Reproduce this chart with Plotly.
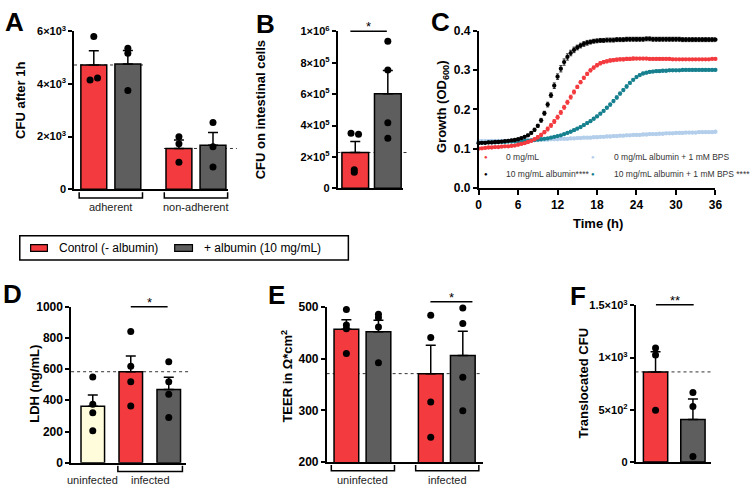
import plotly.graph_objects as go

W, H = 755, 493
FONT = "Liberation Sans, Arial, sans-serif"
RED = "#F33A3E"
GREY = "#5E5E5E"
CREAM = "#FFFCDC"
TEAL = "#17808F"
PALE = "#B3CEEB"

# ---------------- data ----------------
# A: CFU after 1h
A_groups = ["adherent", "non-adherent"]
A_ctrl_mean = [4720, 1550]
A_ctrl_sem = [540, 320]
A_ctrl_pts = [[5800, 4150, 4230], [2000, 1730, 1030]]
A_alb_mean = [4760, 1670]
A_alb_sem = [510, 490]
A_alb_pts = [[5360, 5170, 3750], [2540, 1620, 850]]
A_ticks = [0, 2000, 4000, 6000]
A_ticktext = ["0", "2×10<sup>3</sup>", "4×10<sup>3</sup>", "6×10<sup>3</sup>"]

# B: CFU on intestinal cells
B_ctrl_mean, B_ctrl_sem = 228000, 70000
B_ctrl_pts = [350000, 345000, 118000, 103000]
B_alb_mean, B_alb_sem = 603000, 148000
B_alb_pts = [936000, 753000, 418000, 319000]
B_ticks = [0, 200000, 400000, 600000, 800000, 1000000]
B_ticktext = ["0", "2×10<sup>5</sup>", "4×10<sup>5</sup>", "6×10<sup>5</sup>",
              "8×10<sup>5</sup>", "1×10<sup>6</sup>"]

# C: growth curves (OD600), every 0.5 h
C_time = [0, 0.5, 1, 1.5, 2, 2.5, 3, 3.5, 4, 4.5, 5, 5.5,
          6, 6.5, 7, 7.5, 8, 8.5, 9, 9.5, 10, 10.5, 11, 11.5,
          12, 12.5, 13, 13.5, 14, 14.5, 15, 15.5, 16, 16.5, 17, 17.5,
          18, 18.5, 19, 19.5, 20, 20.5, 21, 21.5, 22, 22.5, 23, 23.5,
          24, 24.5, 25, 25.5, 26, 26.5, 27, 27.5, 28, 28.5, 29, 29.5,
          30, 30.5, 31, 31.5, 32, 32.5, 33, 33.5, 34, 34.5, 35, 35.5, 36]
C_ctrl = [0.100, 0.101, 0.102, 0.103, 0.103, 0.104, 0.104, 0.105, 0.106, 0.106, 0.107, 0.108,
          0.110, 0.112, 0.114, 0.117, 0.120, 0.124, 0.129, 0.135, 0.142, 0.150, 0.159, 0.169,
          0.180, 0.192, 0.205, 0.218, 0.231, 0.244, 0.257, 0.269, 0.280, 0.290, 0.299, 0.306,
          0.312, 0.317, 0.320, 0.322, 0.324, 0.325, 0.326, 0.327, 0.327, 0.328, 0.328, 0.329,
          0.329, 0.329, 0.329, 0.329, 0.328, 0.328, 0.328, 0.328, 0.328, 0.328, 0.328, 0.327,
          0.327, 0.327, 0.327, 0.327, 0.327, 0.327, 0.327, 0.327, 0.327, 0.327, 0.327, 0.328, 0.328]
C_ctrl_err = [0.002, 0.002, 0.002, 0.002, 0.002, 0.002, 0.002, 0.002, 0.002, 0.002, 0.002, 0.002,
              0.002, 0.002, 0.002, 0.003, 0.003, 0.003, 0.004, 0.004, 0.004, 0.005, 0.005, 0.005,
              0.005, 0.005, 0.005, 0.005, 0.005, 0.005, 0.004, 0.004, 0.004, 0.004, 0.004, 0.004,
              0.004, 0.004, 0.004, 0.004, 0.004, 0.004, 0.004, 0.004, 0.004, 0.004, 0.004, 0.004,
              0.003, 0.003, 0.003, 0.003, 0.003, 0.003, 0.003, 0.003, 0.003, 0.003, 0.003, 0.003,
              0.002, 0.002, 0.002, 0.002, 0.002, 0.002, 0.002, 0.002, 0.002, 0.002, 0.002, 0.002, 0.002]
C_alb = [0.114, 0.115, 0.115, 0.116, 0.116, 0.117, 0.117, 0.118, 0.119, 0.120, 0.121, 0.122,
         0.124, 0.127, 0.130, 0.134, 0.140, 0.148, 0.158, 0.172, 0.190, 0.212, 0.236, 0.260,
         0.283, 0.303, 0.320, 0.333, 0.343, 0.351, 0.357, 0.362, 0.366, 0.369, 0.371, 0.373,
         0.374, 0.375, 0.375, 0.376, 0.376, 0.376, 0.377, 0.377, 0.377, 0.378, 0.378, 0.378,
         0.378, 0.378, 0.378, 0.379, 0.379, 0.378, 0.378, 0.378, 0.378, 0.378, 0.378, 0.378,
         0.378, 0.378, 0.377, 0.377, 0.377, 0.377, 0.377, 0.377, 0.377, 0.377, 0.377, 0.377, 0.377]
C_alb_err = [0.002, 0.002, 0.002, 0.002, 0.002, 0.002, 0.002, 0.002, 0.002, 0.002, 0.002, 0.002,
             0.002, 0.002, 0.003, 0.003, 0.003, 0.004, 0.004, 0.005, 0.005, 0.006, 0.006, 0.007,
             0.007, 0.008, 0.008, 0.008, 0.007, 0.007, 0.006, 0.006, 0.006, 0.006, 0.005, 0.005,
             0.005, 0.005, 0.005, 0.005, 0.005, 0.005, 0.005, 0.005, 0.005, 0.005, 0.005, 0.005,
             0.005, 0.005, 0.005, 0.005, 0.005, 0.005, 0.005, 0.005, 0.005, 0.005, 0.005, 0.005,
             0.005, 0.005, 0.005, 0.005, 0.005, 0.005, 0.005, 0.005, 0.005, 0.005, 0.005, 0.005, 0.005]
C_bps = [0.119, 0.119, 0.119, 0.119, 0.120, 0.120, 0.120, 0.120, 0.120, 0.120, 0.121, 0.121,
         0.121, 0.121, 0.121, 0.122, 0.122, 0.122, 0.122, 0.123, 0.123, 0.123, 0.124, 0.124,
         0.124, 0.125, 0.125, 0.125, 0.126, 0.126, 0.127, 0.127, 0.128, 0.128, 0.128, 0.129,
         0.129, 0.130, 0.130, 0.131, 0.131, 0.132, 0.132, 0.133, 0.133, 0.134, 0.134, 0.135,
         0.135, 0.135, 0.136, 0.136, 0.137, 0.137, 0.137, 0.138, 0.138, 0.139, 0.139, 0.139,
         0.140, 0.140, 0.140, 0.141, 0.141, 0.141, 0.141, 0.142, 0.142, 0.142, 0.142, 0.142, 0.143]
C_bps_err = [0.003, 0.003, 0.003, 0.003, 0.003, 0.003, 0.003, 0.003, 0.003, 0.003, 0.003, 0.003,
             0.003, 0.003, 0.003, 0.003, 0.003, 0.003, 0.003, 0.003, 0.003, 0.003, 0.003, 0.003,
             0.003, 0.003, 0.003, 0.003, 0.003, 0.003, 0.003, 0.003, 0.003, 0.003, 0.003, 0.003,
             0.003, 0.003, 0.003, 0.003, 0.003, 0.003, 0.003, 0.003, 0.003, 0.003, 0.003, 0.003,
             0.003, 0.003, 0.003, 0.003, 0.003, 0.003, 0.003, 0.003, 0.003, 0.003, 0.003, 0.003,
             0.003, 0.003, 0.003, 0.003, 0.003, 0.003, 0.003, 0.003, 0.003, 0.003, 0.003, 0.003, 0.003]
C_alb_bps = [0.115, 0.115, 0.115, 0.116, 0.116, 0.116, 0.117, 0.117, 0.117, 0.118, 0.118, 0.118,
             0.119, 0.119, 0.120, 0.120, 0.121, 0.122, 0.123, 0.124, 0.125, 0.126, 0.128, 0.130,
             0.132, 0.134, 0.137, 0.140, 0.143, 0.147, 0.151, 0.155, 0.160, 0.165, 0.170, 0.176,
             0.182, 0.189, 0.196, 0.204, 0.212, 0.221, 0.230, 0.240, 0.249, 0.258, 0.267, 0.275,
             0.282, 0.287, 0.291, 0.293, 0.295, 0.296, 0.297, 0.297, 0.298, 0.298, 0.299, 0.299,
             0.299, 0.299, 0.300, 0.300, 0.300, 0.300, 0.300, 0.300, 0.300, 0.300, 0.300, 0.300, 0.300]
C_alb_bps_err = [0.002, 0.002, 0.002, 0.002, 0.002, 0.002, 0.002, 0.002, 0.002, 0.002, 0.002, 0.002,
                 0.002, 0.002, 0.002, 0.002, 0.002, 0.002, 0.002, 0.002, 0.002, 0.002, 0.002, 0.002,
                 0.002, 0.002, 0.002, 0.002, 0.002, 0.003, 0.003, 0.003, 0.003, 0.003, 0.003, 0.003,
                 0.003, 0.003, 0.003, 0.003, 0.004, 0.004, 0.004, 0.004, 0.004, 0.004, 0.003, 0.003,
                 0.003, 0.003, 0.003, 0.003, 0.003, 0.003, 0.003, 0.003, 0.003, 0.003, 0.003, 0.003,
                 0.003, 0.003, 0.003, 0.003, 0.003, 0.003, 0.003, 0.003, 0.003, 0.003, 0.003, 0.003, 0.003]
C_names = ["0 mg/mL", "10 mg/mL albumin****",
           "0 mg/mL albumin + 1 mM BPS", "10 mg/mL albumin + 1 mM BPS ****"]
C_xticks = [0, 6, 12, 18, 24, 30, 36]
C_yticks = [0, 0.1, 0.2, 0.3, 0.4]

# D: LDH
D_groups = ["uninfected", "infected"]
D_uninf_mean, D_uninf_sem = 362, 72
D_uninf_pts = [550, 375, 320, 205]
D_ctrl_mean, D_ctrl_sem = 583, 101
D_ctrl_pts = [841, 618, 519, 364]
D_alb_mean, D_alb_sem = 469, 78
D_alb_pts = [647, 519, 438, 289]
D_ticks = [0, 200, 400, 600, 800, 1000]

# E: TEER
E_groups = ["uninfected", "infected"]
E_ctrl_mean = [457, 371]
E_ctrl_sem = [18, 55]
E_ctrl_pts = [[495, 465, 458, 410], [484, 441, 316, 248]]
E_alb_mean = [452, 406]
E_alb_sem = [22, 47]
E_alb_pts = [[486, 479, 461, 392], [498, 468, 364, 299]]
E_ticks = [200, 300, 400, 500]

# F: translocated CFU
F_ctrl_mean, F_ctrl_sem = 863, 192
F_ctrl_pts = [1092, 1024, 495]
F_alb_mean, F_alb_sem = 408, 195
F_alb_pts = [665, 532, 53]
F_ticks = [0, 500, 1000, 1500]
F_ticktext = ["0", "5×10<sup>2</sup>", "1×10<sup>3</sup>", "1.5×10<sup>3</sup>"]

legend_names = ["Control (- albumin)", "+ albumin (10 mg/mL)"]

# ---------------- layout helpers ----------------
# pixel boxes of each plot area and their data ranges
PANELS = {
    "A": dict(n="", px=(72, 228), py=(24, 187), xr=(-0.58, 3.94), yr=(0, 6000)),
    "B": dict(n="2", px=(339, 405), py=(24, 186), xr=(-0.545, 1.455), yr=(0, 1000000)),
    "C": dict(n="3", px=(482, 722), py=(23.3, 185.7), xr=(0, 36), yr=(0, 0.4)),
    "D": dict(n="4", px=(69, 185), py=(308, 469), xr=(-0.571, 2.442), yr=(0, 1000)),
    "E": dict(n="5", px=(328, 486), py=(308.3, 468.3), xr=(-0.615, 4.246), yr=(200, 500)),
    "F": dict(n="6", px=(641, 717), py=(306.7, 468.3), xr=(-0.536, 1.47), yr=(0, 1500)),
}


def xp(k, v):
    p = PANELS[k]
    x0, x1 = p["px"]
    r0, r1 = p["xr"]
    return (x0 + (v - r0) / (r1 - r0) * (x1 - x0)) / W


def yp(k, v):
    p = PANELS[k]
    top, bot = p["py"]
    r0, r1 = p["yr"]
    return 1 - (bot - (v - r0) / (r1 - r0) * (bot - top)) / H


def pxx(p):
    return p / W


def pxy(p):
    return 1 - p / H


def bold(vals):
    return ["<b>%s</b>" % v for v in vals]


fig = go.Figure()
shapes = []
annots = []


def note(x, y, text, size, color="black", xanchor="center", yanchor="middle", **kw):
    annots.append(dict(xref="paper", yref="paper", x=x, y=y, text=text, showarrow=False,
                       xanchor=xanchor, yanchor=yanchor,
                       font=dict(family=FONT, size=size, color=color), **kw))


def rect_px(x0, y0, x1, y1, fill, lw=1.5):
    shapes.append(dict(type="rect", xref="paper", yref="paper",
                       x0=pxx(x0), x1=pxx(x1), y0=pxy(y0), y1=pxy(y1),
                       fillcolor=fill, line=dict(color="black", width=lw)))


def bars(k, pos, means, sems, color, pts, jit, width):
    n = PANELS[k]["n"]
    fig.add_trace(go.Bar(
        x=pos, y=means, width=width, showlegend=False,
        marker=dict(color=color, line=dict(color="black", width=1.5)),
        error_y=dict(type="data", symmetric=False, array=sems, arrayminus=[0] * len(sems),
                     color="black", thickness=1.5, width=5),
        xaxis="x" + n, yaxis="y" + n, hoverinfo="skip"))
    xs, ys = [], []
    for p, vals, js in zip(pos, pts, jit):
        for v, j in zip(vals, js):
            xs.append(p + j)
            ys.append(v)
    fig.add_trace(go.Scatter(
        x=xs, y=ys, mode="markers", showlegend=False, cliponaxis=False,
        marker=dict(color="black", size=7), xaxis="x" + n, yaxis="y" + n, hoverinfo="skip"))


def hline(k, x0, x1, y):
    shapes.append(dict(type="line", xref="paper", yref="paper", layer="below",
                       x0=xp(k, x0), x1=xp(k, x1), y0=yp(k, y), y1=yp(k, y),
                       line=dict(color="#333333", width=1, dash="dot")))


def bracket(k, x0, x1, label):
    base = PANELS[k]["py"][1]
    pts = [(xp(k, x0), pxy(base + 3)), (xp(k, x0), pxy(base + 9)),
           (xp(k, x1), pxy(base + 9)), (xp(k, x1), pxy(base + 3))]
    path = "M {} {} L {} {} L {} {} L {} {}".format(*[c for pt in pts for c in pt])
    shapes.append(dict(type="path", xref="paper", yref="paper", path=path,
                       line=dict(color="black", width=1.5)))
    if label:
        note((xp(k, x0) + xp(k, x1)) / 2, pxy(base + 18), label, 11, "#222")


def sig(k, x0, x1, y, text):
    shapes.append(dict(type="line", xref="paper", yref="paper",
                       x0=xp(k, x0), x1=xp(k, x1), y0=yp(k, y), y1=yp(k, y),
                       line=dict(color="black", width=1.5)))
    note((xp(k, x0) + xp(k, x1)) / 2, yp(k, y), text, 13, yanchor="bottom", yshift=-5)


# ---------------- A ----------------
A_pos_ctrl, A_pos_alb = [0, 2.5], [1, 3.5]
A_ctrl_jit = [[0, -0.11, 0.11], [0, 0, 0]]
A_alb_jit = [[0, 0, 0], [0, 0, 0]]
hline("A", -0.58, 1.5, A_ctrl_mean[0])
hline("A", 2.06, 4.2, A_ctrl_mean[1])
bars("A", A_pos_ctrl, A_ctrl_mean, A_ctrl_sem, RED, A_ctrl_pts, A_ctrl_jit, 0.76)
bars("A", A_pos_alb, A_alb_mean, A_alb_sem, GREY, A_alb_pts, A_alb_jit, 0.76)
for g, pc, pa in zip(A_groups, A_pos_ctrl, A_pos_alb):
    bracket("A", pc - 0.43, pa + 0.43, g)

# ---------------- B ----------------
hline("B", -0.545, 1.6, B_ctrl_mean)
bars("B", [0], [B_ctrl_mean], [B_ctrl_sem], RED, [B_ctrl_pts], [[-0.13, 0.1, -0.03, -0.03]], 0.82)
bars("B", [1], [B_alb_mean], [B_alb_sem], GREY, [B_alb_pts], [[0, 0, 0, 0]], 0.82)
sig("B", -0.15, 0.97, 1000000, "*")

# ---------------- C ----------------
series = [(C_bps, C_bps_err, PALE), (C_alb_bps, C_alb_bps_err, TEAL),
          (C_ctrl, C_ctrl_err, RED), (C_alb, C_alb_err, "black")]
for ys, es, col in series:
    fig.add_trace(go.Scatter(
        x=C_time, y=ys, mode="markers", showlegend=False, cliponaxis=False,
        marker=dict(color=col, size=4.3),
        error_y=dict(type="data", array=es, color=col, thickness=0.8, width=1.5),
        xaxis="x3", yaxis="y3", hoverinfo="skip"))
leg_c = [(489, 154, RED, C_names[0]), (489, 171.5, "black", C_names[1]),
         (598, 154, PALE, C_names[2]), (598, 171.5, TEAL, C_names[3])]
for lx, ly, col, txt in leg_c:
    note(pxx(lx), pxy(ly), "●", 6, col)
    note(pxx(lx + 19), pxy(ly), txt, 8.5, "#333", xanchor="left")

# ---------------- D ----------------
hline("D", -0.571, 2.52, D_ctrl_mean)
bars("D", [0], [D_uninf_mean], [D_uninf_sem], CREAM, [D_uninf_pts], [[0, 0, 0, 0]], 0.62)
bars("D", [1], [D_ctrl_mean], [D_ctrl_sem], RED, [D_ctrl_pts], [[0, 0, 0, 0]], 0.62)
bars("D", [2], [D_alb_mean], [D_alb_sem], GREY, [D_alb_pts], [[0, 0, 0, 0]], 0.62)
note(xp("D", 0), pxy(487), D_groups[0], 11, "#222")
bracket("D", 0.66, 2.36, D_groups[1])
sig("D", 1.0, 1.97, 1000, "*")

# ---------------- E ----------------
E_pos_ctrl, E_pos_alb = [0, 2.63], [1, 3.63]
hline("E", -0.615, 4.246, E_ctrl_mean[1])
bars("E", E_pos_ctrl, E_ctrl_mean, E_ctrl_sem, RED, E_ctrl_pts, [[0] * 4, [0] * 4], 0.77)
bars("E", E_pos_alb, E_alb_mean, E_alb_sem, GREY, E_alb_pts, [[0] * 4, [0] * 4], 0.77)
for g, pc, pa in zip(E_groups, E_pos_ctrl, E_pos_alb):
    bracket("E", pc - 0.47, pa + 0.5, g)
sig("E", 2.62, 3.93, 510, "*")

# ---------------- F ----------------
hline("F", -0.536, 1.5, F_ctrl_mean)
bars("F", [0], [F_ctrl_mean], [F_ctrl_sem], RED, [F_ctrl_pts], [[0, 0, 0]], 0.65)
bars("F", [1], [F_alb_mean], [F_alb_sem], GREY, [F_alb_pts], [[0, 0, 0]], 0.65)
sig("F", 0.01, 1.02, 1506, "**")

# ---------------- shared legend (boxed, between rows) ----------------
rect_px(17, 235, 350, 260, "rgba(0,0,0,0)")
rect_px(28, 244, 45, 251, RED, 1.2)
note(pxx(55), pxy(247.5), legend_names[0], 12, xanchor="left")
rect_px(174, 244, 192, 251, GREY, 1.2)
note(pxx(202), pxy(247.5), legend_names[1], 12, xanchor="left")

# ---------------- axes ----------------
axis_common = dict(showgrid=False, zeroline=False, showline=True, linecolor="black",
                   linewidth=1.5, ticks="outside", ticklen=4, tickwidth=1.5, tickcolor="black",
                   tickfont=dict(family=FONT, size=12, color="black"))
yticks = {"A": (A_ticks, A_ticktext), "B": (B_ticks, B_ticktext),
          "C": (C_yticks, ["%.1f" % t for t in C_yticks]),
          "D": (D_ticks, [str(t) for t in D_ticks]), "E": (E_ticks, [str(t) for t in E_ticks]),
          "F": (F_ticks, F_ticktext)}
lay = {}
for k, p in PANELS.items():
    n = p["n"]
    xa = dict(axis_common, domain=[p["px"][0] / W, p["px"][1] / W], range=list(p["xr"]),
              anchor="y" + n)
    if k == "C":
        xa.update(tickvals=C_xticks, ticktext=bold(C_xticks), ticklen=5)
    else:
        xa.update(ticks="", showticklabels=False)
    ya = dict(axis_common, domain=[1 - p["py"][1] / H, 1 - p["py"][0] / H], range=list(p["yr"]),
              anchor="x" + n, tickvals=yticks[k][0], ticktext=bold(yticks[k][1]))
    if k in ("A", "B", "F"):
        ya["tickfont"] = dict(family=FONT, size=11, color="black")
    lay["xaxis" + n] = xa
    lay["yaxis" + n] = ya

# axis titles
titles = [(17, 95, "CFU after 1h"), (261, 105, "CFU on intestinal cells"),
          (446, 102, "Growth (OD<sub>600</sub>)"), (32, 388, "LDH (ng/mL)"),
          (288, 380, "TEER in Ω*cm<sup>2</sup>"), (588, 387, "Translocated CFU")]
for tx, ty, txt in titles:
    note(pxx(tx), pxy(ty), "<b>%s</b>" % txt, 13, textangle=-90)
note(pxx(603), pxy(222), "<b>Time (h)</b>", 13)

# panel letters
for lx, ly, L in [(12, 14, "A"), (266, 16, "B"), (443, 14, "C"),
                  (10, 295, "D"), (277, 296, "E"), (583, 297, "F")]:
    note(pxx(lx), pxy(ly), "<b>%s</b>" % L, 26)

fig.update_layout(
    width=W, height=H, margin=dict(l=0, r=0, t=0, b=0),
    paper_bgcolor="white", plot_bgcolor="rgba(0,0,0,0)",
    font=dict(family=FONT, color="black"),
    barmode="overlay", showlegend=False, hovermode=False,
    shapes=shapes, annotations=annots,
    **lay,
)

fig.write_html("out.html", config={"displayModeBar": False},
               post_script="document.body.style.margin='0';")
